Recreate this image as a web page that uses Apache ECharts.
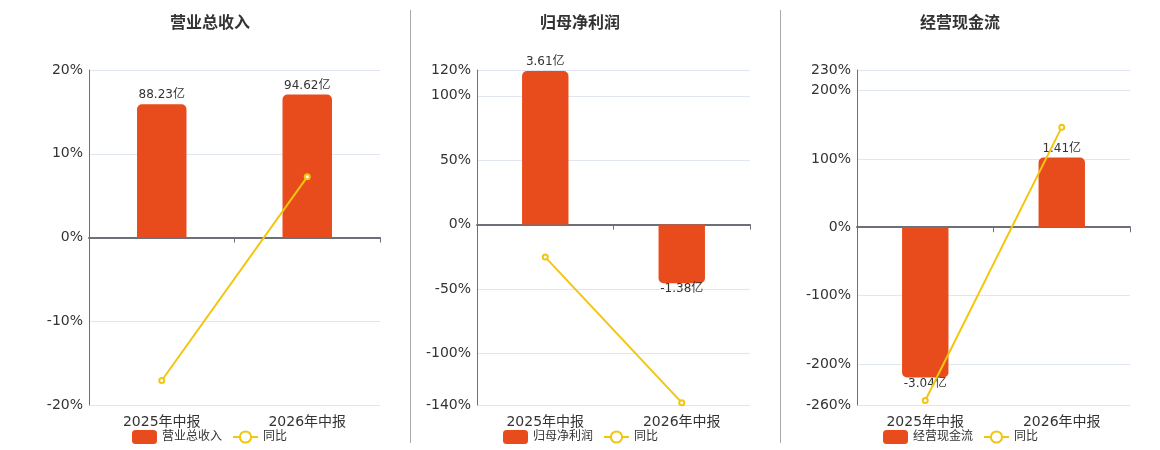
<!DOCTYPE html>
<html>
<head>
<meta charset="utf-8">
<title>财务指标</title>
<script src="https://cdn.jsdelivr.net/npm/echarts@6/dist/echarts.min.js"></script>
<style>
    html, body { margin: 0; padding: 0; background: #fff; }
    #main { width: 1160px; height: 450px; }
</style>
</head>
<body>
<div id="main"></div>
<script>
// 数据
const periods = ["2025年中报", "2026年中报"];
const titles = ["营业总收入", "归母净利润", "经营现金流"];
const revenue = [88.23, 94.62]; //营业总收入（亿）
const netProfit = [3.61, -1.38]; //归母净利润（亿）
const cashFlow = [-3.04, 1.41]; //经营现金流（亿）
const revenueYoy = [-17.07, 7.24]; //同比（%）
const netProfitYoy = [-25.2, -138.2];
const cashFlowYoy = [-253.5, 146.4];
const pctMin = [-20, -140, -260]; //左轴下限
const pctMax = [20, 120, 230]; //左轴上限

(function () {
    const font = "'DejaVu Sans', 'Noto Sans CJK SC', sans-serif";
    const barColor = "#e84c1d";
    const lineColor = "#f2c511";
    const barValues = [revenue, netProfit, cashFlow];
    const yoyValues = [revenueYoy, netProfitYoy, cashFlowYoy];
    const barScale = [5.543, 0.030285, 0.013831]; //柱子轴与百分比轴的比例（亿/%）
    const gridLeft = [89, 477, 857];
    const gridWidth = [291, 273, 273];
    const centers = [210, 580, 960];
    const legendLeft = [132, 503, 883];

    const my_echart = echarts.init(document.getElementById("main"));
    let option = {
        animation: false,
        textStyle: { fontFamily: font },
        title: [],
        legend: [],
        grid: [],
        xAxis: [],
        yAxis: [],
        series: [],
        graphic: [410.5, 780.5].map(function (x) { //分隔竖线
            return {
                type: "line",
                shape: { x1: x, y1: 10, x2: x, y2: 443 },
                style: { stroke: "#aaaaaa", lineWidth: 1 }
            };
        })
    };

    for (let i = 0; i < 3; i++) {
        option.title.push({
            text: titles[i],
            left: centers[i],
            top: 16,
            padding: 0,
            textAlign: "center",
            textStyle: { fontSize: 16, fontWeight: "bold", color: "#333", fontFamily: font }
        });
        option.legend.push({
            left: legendLeft[i],
            top: 430,
            padding: 0,
            itemWidth: 25,
            itemHeight: 14,
            itemGap: 10,
            textStyle: { fontSize: 12, color: "#333", fontFamily: font },
            data: [titles[i], "同比"]
        });
        option.grid.push({ left: gridLeft[i], top: 70, width: gridWidth[i], height: 335 });
        // 零线（带刻度）
        option.xAxis.push({
            type: "category",
            gridIndex: i,
            data: periods,
            position: "bottom",
            axisLine: { onZero: true, lineStyle: { color: "#6e7079", width: 2 } },
            axisTick: { show: true, length: 5, lineStyle: { color: "#6e7079" } },
            axisLabel: { show: false },
            splitLine: { show: false }
        });
        // 底部类目标签
        option.xAxis.push({
            type: "category",
            gridIndex: i,
            data: periods,
            position: "bottom",
            axisLine: { show: false, onZero: false },
            axisTick: { show: false },
            axisLabel: { fontSize: 14, color: "#333", margin: 8, padding: [2, 0, 0, 0], fontFamily: font },
            splitLine: { show: false }
        });
        // 百分比轴
        option.yAxis.push({
            type: "value",
            gridIndex: i,
            position: "left",
            min: pctMin[i],
            max: pctMax[i],
            axisLine: { show: true, lineStyle: { color: "#6e7079" } },
            axisTick: { show: false },
            axisLabel: { fontSize: 14, color: "#333", margin: 6, padding: [4, 0, 0, 0], formatter: "{value}%", fontFamily: font },
            splitLine: { lineStyle: { color: "#e0e6f1" } }
        });
        // 柱子轴（隐藏）
        option.yAxis.push({
            type: "value",
            gridIndex: i,
            position: "right",
            show: false,
            min: pctMin[i] * barScale[i],
            max: pctMax[i] * barScale[i],
            splitLine: { show: false }
        });
        option.series.push({
            name: titles[i],
            type: "bar",
            xAxisIndex: 2 * i,
            yAxisIndex: 2 * i + 1,
            barWidth: "34%",
            itemStyle: { color: barColor },
            data: barValues[i].map(function (v) {
                return {
                    value: v,
                    itemStyle: { borderRadius: v >= 0 ? [5, 5, 0, 0] : [0, 0, 5, 5] },
                    label: { position: v >= 0 ? "top" : "bottom", distance: v >= 0 ? 3 : 0 }
                };
            }),
            label: {
                show: true,
                fontSize: 12,
                color: "#333",
                fontFamily: font,
                formatter: function (p) { return p.value + "亿"; }
            }
        });
        option.series.push({
            name: "同比",
            type: "line",
            z: 5,
            xAxisIndex: 2 * i,
            yAxisIndex: 2 * i,
            symbol: "emptyCircle",
            symbolSize: 5,
            itemStyle: { color: lineColor },
            lineStyle: { color: lineColor, width: 2 },
            data: yoyValues[i]
        });
    }

    my_echart.setOption(option); //指定配置项
    window.addEventListener("resize", function () {
        my_echart.resize();
    });
})();
</script>
</body>
</html>
